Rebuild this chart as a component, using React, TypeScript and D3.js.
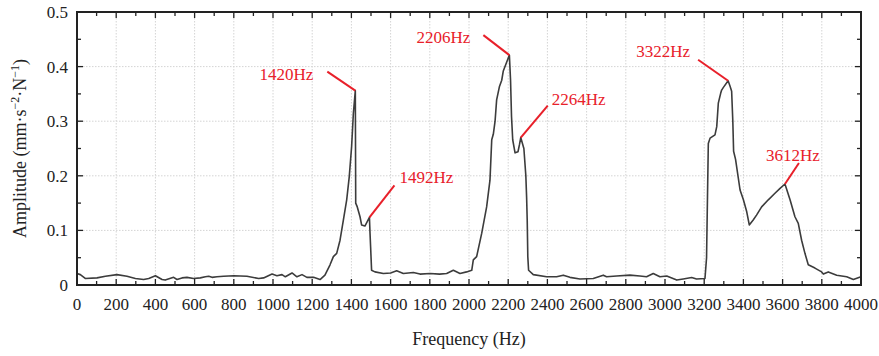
import React from "react";
import * as d3 from "d3";

const freqs = [
  0, 17, 42, 102, 145, 204, 255, 298, 340, 366, 400, 434, 450, 493, 510, 536, 561, 595, 629, 655, 672, 689, 714, 748, 800, 867, 927, 952, 995, 1020, 1046, 1063, 1097, 1122, 1148, 1173, 1207, 1240, 1265,
  1291, 1308, 1325, 1342, 1359, 1376, 1389, 1401, 1410, 1420, 1422, 1430, 1444, 1452, 1469, 1492, 1495, 1498, 1503, 1520, 1563, 1600, 1631, 1665, 1716, 1750, 1801, 1850, 1886, 1920, 1954, 1988, 2014,
  2022, 2039, 2065, 2090, 2107, 2116, 2124, 2133, 2141, 2155, 2167, 2175, 2192, 2206, 2212, 2217, 2223, 2235, 2250, 2258, 2264, 2280, 2290, 2294, 2297, 2300, 2304, 2328, 2396, 2447, 2481, 2515, 2566,
  2634, 2685, 2702, 2753, 2821, 2872, 2906, 2940, 2974, 3009, 3060, 3093, 3136, 3161, 3204, 3212, 3221, 3230, 3255, 3264, 3272, 3284, 3289, 3298, 3322, 3332, 3340, 3346, 3350, 3360, 3383, 3400, 3417,
  3430, 3450, 3467, 3493, 3527, 3561, 3587, 3612, 3638, 3663, 3680, 3697, 3714, 3731, 3765, 3799, 3808, 3833, 3876, 3927, 3961, 4000,
];
const amps = [
  0.021, 0.019, 0.012, 0.013, 0.016, 0.019, 0.016, 0.012, 0.010, 0.012, 0.017, 0.010, 0.009, 0.014, 0.010, 0.013, 0.014, 0.012, 0.013, 0.015, 0.016, 0.014, 0.015, 0.016, 0.017, 0.016, 0.012, 0.013, 0.020, 0.017, 0.019, 0.015, 0.022, 0.015, 0.019, 0.014, 0.014, 0.010, 0.018,
  0.037, 0.052, 0.058, 0.082, 0.119, 0.156, 0.198, 0.253, 0.314, 0.356, 0.150, 0.143, 0.125, 0.110, 0.108, 0.124, 0.095, 0.070, 0.027, 0.024, 0.021, 0.022, 0.026, 0.021, 0.023, 0.020, 0.021, 0.020, 0.021, 0.027, 0.021, 0.024, 0.027,
  0.046, 0.052, 0.095, 0.143, 0.192, 0.266, 0.276, 0.300, 0.339, 0.363, 0.375, 0.392, 0.408, 0.421, 0.375, 0.308, 0.266, 0.242, 0.244, 0.258, 0.270, 0.250, 0.200, 0.160, 0.119, 0.052, 0.027, 0.019, 0.015, 0.015, 0.018, 0.014, 0.011,
  0.012, 0.018, 0.015, 0.0165, 0.018, 0.0165, 0.015, 0.021, 0.015, 0.0165, 0.009, 0.011, 0.0137, 0.011, 0.012, 0.050, 0.259, 0.269, 0.275, 0.290, 0.333, 0.351, 0.357, 0.362, 0.374, 0.364, 0.355, 0.300, 0.245, 0.230, 0.174, 0.156, 0.134,
  0.110, 0.119, 0.128, 0.143, 0.156, 0.168, 0.177, 0.185, 0.156, 0.125, 0.113, 0.082, 0.058, 0.037, 0.031, 0.024, 0.020, 0.024, 0.018, 0.015, 0.010, 0.015,
];

const xTickValues = d3.range(0, 4001, 200);
const xMinorValues = d3.range(100, 4000, 200);
const yTickValues = [0, 0.1, 0.2, 0.3, 0.4, 0.5];
const yTickLabels = ["0", "0.1", "0.2", "0.3", "0.4", "0.5"];
const yMinorValues = [0.05, 0.15, 0.25, 0.35, 0.45];

const peakFreqs = [1420, 1492, 2206, 2264, 3322, 3612];
const peakAmps = [0.356, 0.124, 0.421, 0.27, 0.374, 0.185];
const peakLabels = ["1420Hz", "1492Hz", "2206Hz", "2264Hz", "3322Hz", "3612Hz"];

// layout offsets for annotation leaders and texts (pixels, relative to peak)
const leaderOffsets = [
  [-28, -19],
  [25, -32],
  [-26, -20],
  [27, -32],
  [-30, -21],
  [14, -21],
];
const textOffsets = [
  [-42, -17, "end"],
  [30, -40, "start"],
  [-39, -18, "end"],
  [31, -39, "start"],
  [-38, -30, "end"],
  [8, -29, "middle"],
];

const W = 879;
const H = 356;
const L = 77;
const R = 861;
const T = 12;
const B = 285;
const FONT = "'Liberation Serif', 'Times New Roman', serif";
const RED = "#e8202a";

export default function App() {
  const x = d3.scaleLinear().domain([0, 4000]).range([L, R]);
  const y = d3.scaleLinear().domain([0, 0.5]).range([B, T]);
  const data = freqs.map((f, i) => [f, amps[i]] as [number, number]);
  const line = d3
    .line<[number, number]>()
    .x((d) => x(d[0]))
    .y((d) => y(d[1]));

  return (
    <svg width={W} height={H} style={{ position: "absolute", left: 0, top: 0, background: "#fff" }} fontFamily={FONT}>
      <rect x={0} y={0} width={W} height={H} fill="#fff" />
      {/* grid */}
      {xTickValues.slice(1, -1).map((v) => (
        <line key={"gx" + v} x1={x(v)} x2={x(v)} y1={T} y2={B} stroke="#d4d4d4" strokeWidth={1} strokeDasharray="1.5,1.5" />
      ))}
      {yTickValues.slice(1, -1).map((v) => (
        <line key={"gy" + v} x1={L} x2={R} y1={y(v)} y2={y(v)} stroke="#d4d4d4" strokeWidth={1} strokeDasharray="1.5,1.5" />
      ))}
      {/* data */}
      <path d={line(data) || ""} fill="none" stroke="#3c3c3c" strokeWidth={1.6} strokeLinejoin="round" />
      {/* ticks */}
      {xTickValues.map((v) => (
        <g key={"tx" + v}>
          <line x1={x(v)} x2={x(v)} y1={B} y2={B - 6} stroke="#222" strokeWidth={1.3} />
          <line x1={x(v)} x2={x(v)} y1={T} y2={T + 6} stroke="#222" strokeWidth={1.3} />
          <text x={x(v)} y={310} textAnchor="middle" fontSize={17} fill="#222">
            {v}
          </text>
        </g>
      ))}
      {xMinorValues.map((v) => (
        <g key={"mx" + v}>
          <line x1={x(v)} x2={x(v)} y1={B} y2={B - 4} stroke="#222" strokeWidth={1.3} />
          <line x1={x(v)} x2={x(v)} y1={T} y2={T + 4} stroke="#222" strokeWidth={1.3} />
        </g>
      ))}
      {yTickValues.map((v, i) => (
        <g key={"ty" + v}>
          <line x1={L} x2={L + 6} y1={y(v)} y2={y(v)} stroke="#222" strokeWidth={1.3} />
          <line x1={R} x2={R - 6} y1={y(v)} y2={y(v)} stroke="#222" strokeWidth={1.3} />
          <text x={68} y={y(v)} dy="0.35em" textAnchor="end" fontSize={17} fill="#222">
            {yTickLabels[i]}
          </text>
        </g>
      ))}
      {yMinorValues.map((v) => (
        <g key={"my" + v}>
          <line x1={L} x2={L + 4} y1={y(v)} y2={y(v)} stroke="#222" strokeWidth={1.3} />
          <line x1={R} x2={R - 4} y1={y(v)} y2={y(v)} stroke="#222" strokeWidth={1.3} />
        </g>
      ))}
      {/* frame */}
      <rect x={L} y={T} width={R - L} height={B - T} fill="none" stroke="#222" strokeWidth={2} />
      {/* annotations */}
      {peakFreqs.map((f, i) => {
        const px = x(f);
        const py = y(peakAmps[i]);
        const [lx, ly] = leaderOffsets[i];
        const [tx, ty, anchor] = textOffsets[i] as [number, number, string];
        return (
          <g key={"a" + f}>
            <line x1={px} y1={py} x2={px + lx} y2={py + ly} stroke={RED} strokeWidth={2} />
            <text x={px + tx} y={py + ty} dy="0.35em" textAnchor={anchor} fontSize={17} fill={RED}>
              {peakLabels[i]}
            </text>
          </g>
        );
      })}
      {/* axis titles */}
      <text x={(L + R) / 2} y={345} textAnchor="middle" fontSize={18} fill="#222">
        Frequency (Hz)
      </text>
      <text transform={`translate(26,${(T + B) / 2}) rotate(-90)`} textAnchor="middle" fontSize={18} fill="#222">
        Amplitude (mm·s
        <tspan fontSize={12} dy={-7}>
          −2
        </tspan>
        <tspan dy={7}>·N</tspan>
        <tspan fontSize={12} dy={-7}>
          −1
        </tspan>
        <tspan dy={7}>)</tspan>
      </text>
    </svg>
  );
}
